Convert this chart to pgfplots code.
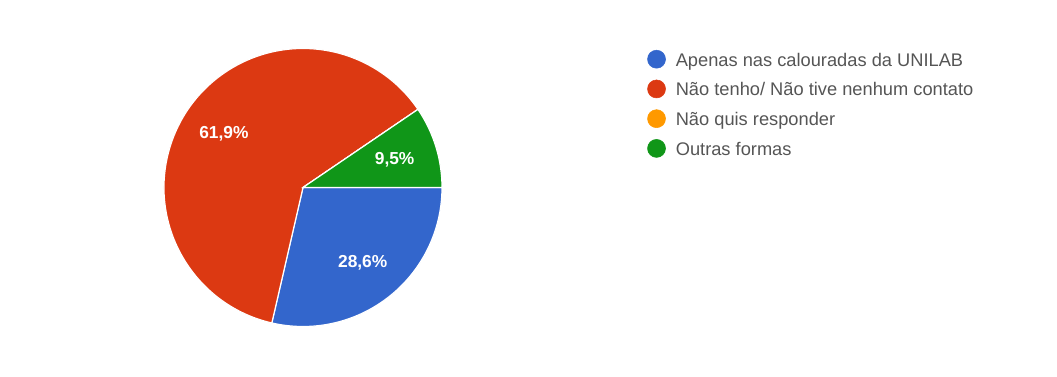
\documentclass[border=0pt]{standalone}
\usepackage{pgfplots}
\pgfplotsset{compat=1.18}
\usepackage{pgfplotstable}
\usepackage{fontspec}
\setmainfont{Liberation Sans}
\definecolor{gblue}{HTML}{3366CC}
\definecolor{gred}{HTML}{DC3912}
\definecolor{gorange}{HTML}{FF9900}
\definecolor{ggreen}{HTML}{109618}
\definecolor{legtext}{HTML}{555555}

\pgfplotstableread[col sep=comma]{
label,value
Apenas,28.6
Nao tenho,61.9
Nao quis,0
Outras,9.5
}\piedata
\pgfplotstablegetelem{0}{value}\of\piedata \edef\vA{\pgfplotsretval}%
\pgfplotstablegetelem{1}{value}\of\piedata \edef\vB{\pgfplotsretval}%
\pgfplotstablegetelem{2}{value}\of\piedata \edef\vC{\pgfplotsretval}%
\pgfplotstablegetelem{3}{value}\of\piedata \edef\vD{\pgfplotsretval}%
\pgfmathsetmacro\tot{\vA+\vB+\vC+\vD}%
\pgfmathsetmacro\aA{-360*(\vA/\tot)}%
\pgfmathsetmacro\aB{\aA-360*(\vB/\tot)}%
\pgfmathsetmacro\aC{\aB-360*(\vC/\tot)}%
\pgfmathsetmacro\aD{\aC-360*(\vD/\tot)}%
\pgfmathsetmacro\mA{\aA/2}%
\pgfmathsetmacro\mB{(\aA+\aB)/2}%
\pgfmathsetmacro\mD{(\aC+\aD)/2}%
\def\R{104.25pt}
\def\Rl{71.9pt}
\def\pct#1{\pgfmathprintnumber[fixed, precision=1, fixed zerofill, use comma, assume math mode=true]{#1}\%}

\begin{document}
\begin{tikzpicture}
\begin{axis}[
  x=0.75pt, y=0.75pt, y dir=reverse,
  xmin=0, xmax=1057, ymin=0, ymax=376,
  hide axis, clip=false,
  legend style={at={(axis cs:643,47)}, anchor=north west, draw=none, fill=none,
    font=\fontsize{13.7pt}{16pt}\selectfont, text=legtext,
    nodes={inner sep=0pt, text height=10pt, text depth=3.5pt},
    row sep=6.6pt,
    /tikz/every odd column/.append style={column sep=7.5pt}},
  legend cell align=left,
]
\path (axis cs:0,0) rectangle (axis cs:1057,376);
\fill[gblue, draw=white, line width=0.9pt] (axis cs:303,187.5) -- ++(0:\R) arc[start angle=0, end angle=\aA, radius=\R] -- cycle;
\fill[gred, draw=white, line width=0.9pt] (axis cs:303,187.5) -- ++(\aA:\R) arc[start angle=\aA, end angle=\aB, radius=\R] -- cycle;
\fill[gorange, draw=white, line width=0.9pt] (axis cs:303,187.5) -- ++(\aB:\R) arc[start angle=\aB, end angle=\aC, radius=\R] -- cycle;
\fill[ggreen, draw=white, line width=0.9pt] (axis cs:303,187.5) -- ++(\aC:\R) arc[start angle=\aC, end angle=\aD, radius=\R] -- cycle;
\path (axis cs:303,187.5) ++(\mA:\Rl) node[text=white, font=\fontsize{13pt}{14pt}\selectfont\bfseries] {\pct{\vA}};
\path (axis cs:303,187.5) ++(\mB:\Rl) node[text=white, font=\fontsize{13pt}{14pt}\selectfont\bfseries] {\pct{\vB}};
\path (axis cs:303,187.5) ++(\mD:\Rl) node[text=white, font=\fontsize{13pt}{14pt}\selectfont\bfseries] {\pct{\vD}};
\addlegendimage{legend image code/.code={\fill[gblue] (6.75pt,0.35em-1.5pt) circle (6.75pt);}}
\addlegendentry{Apenas nas calouradas da UNILAB}
\addlegendimage{legend image code/.code={\fill[gred] (6.75pt,0.35em-1.5pt) circle (6.75pt);}}
\addlegendentry{Não tenho/ Não tive nenhum contato}
\addlegendimage{legend image code/.code={\fill[gorange] (6.75pt,0.35em-1.5pt) circle (6.75pt);}}
\addlegendentry{Não quis responder}
\addlegendimage{legend image code/.code={\fill[ggreen] (6.75pt,0.35em-1.5pt) circle (6.75pt);}}
\addlegendentry{Outras formas}
\end{axis}
\end{tikzpicture}
\end{document}
